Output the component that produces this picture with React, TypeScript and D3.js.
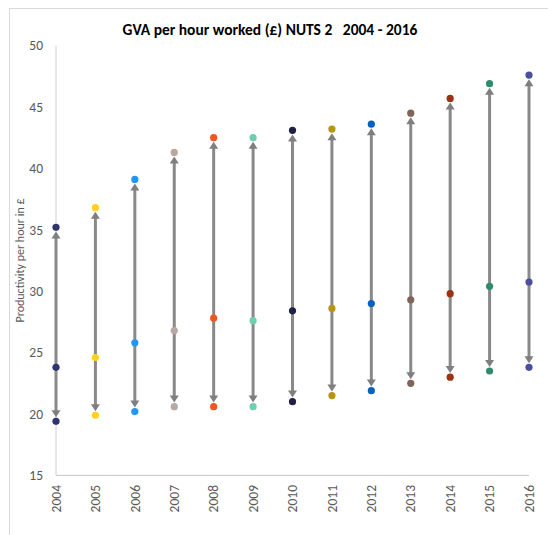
import React from "react";
import * as d3 from "d3";

const years = ["2004","2005","2006","2007","2008","2009","2010","2011","2012","2013","2014","2015","2016"];
const highValues = [35.2, 36.8, 39.1, 41.3, 42.5, 42.5, 43.1, 43.2, 43.6, 44.5, 45.7, 46.9, 47.6];
const midValues = [23.8, 24.6, 25.8, 26.8, 27.8, 27.6, 28.4, 28.6, 29.0, 29.3, 29.8, 30.4, 30.75];
const lowValues = [19.4, 19.9, 20.2, 20.6, 20.6, 20.6, 21.0, 21.5, 21.9, 22.5, 23.0, 23.5, 23.8];
const colors = ["#2e3570","#ffd21f","#2196f3","#b8a8a0","#f0561f","#6dcfae","#1f1f48","#b89510","#0562c0","#7e6558","#9b3212","#2e8b6c","#4a4fa2"];
const yTicks = [15, 20, 25, 30, 35, 40, 45, 50];

const title = "GVA per hour worked (£) NUTS 2   2004 - 2016";
const yTitle = "Productivity per hour in £";

export default function App() {
  const W = 548, H = 535;
  const left = 56, right = 529, top = 45.6, bottom = 475.4;
  const x = d3.scalePoint<string>().domain(years).range([left, right]);
  const y = d3.scaleLinear().domain([15, 50]).range([bottom, top]);
  const font = "Calibri, Carlito, Lato, sans-serif";
  const lineCol = "#898989";
  const r = 3.6;
  const ah = 7, aw = 4.5;

  return (
    <svg width={W} height={H} style={{ position: "absolute", left: 0, top: 0 }} fontFamily={font}>
      <rect x={0} y={0} width={W} height={H} fill="#fff" />
      <rect x={9.5} y={8.5} width={W + 20} height={H + 20} fill="none" stroke="#d9d9d9" strokeWidth={1} />
      <text x={270} y={35} textAnchor="middle" fontSize={15.5} fontWeight="bold" fill="#000" style={{ whiteSpace: "pre" }}>{title}</text>
      {/* axes */}
      <line x1={left} x2={left} y1={top} y2={bottom} stroke="#d0d0d0" strokeWidth={1} />
      <line x1={left} x2={right} y1={bottom} y2={bottom} stroke="#c8c8c8" strokeWidth={1} />
      {yTicks.map((t) => (
        <text key={t} x={43} y={y(t)} dy="0.35em" textAnchor="end" fontSize={13.5} fill="#595959">{t}</text>
      ))}
      {years.map((yr) => (
        <text key={yr} transform={`translate(${x(yr)! },485) rotate(-90)`} dy="0.35em" textAnchor="end" fontSize={13.5} fill="#595959">{yr}</text>
      ))}
      <text transform={`translate(20,${(top + bottom) / 2}) rotate(-90)`} textAnchor="middle" dy="0.35em" fontSize={12} fill="#595959">{yTitle}</text>
      {/* arrows */}
      {years.map((yr, i) => {
        const cx = x(yr)!;
        const yh = y(highValues[i]);
        const yl = y(lowValues[i]);
        const tipTop = yh + r + 0.5;
        const tipBot = yl - r - 0.5;
        return (
          <g key={"a" + yr}>
            <line x1={cx} x2={cx} y1={tipTop + ah - 1} y2={tipBot - ah + 1} stroke={lineCol} strokeWidth={3} />
            <path d={`M${cx},${tipTop} L${cx - aw},${tipTop + ah} L${cx + aw},${tipTop + ah} Z`} fill="#7f7f7f" />
            <path d={`M${cx},${tipBot} L${cx - aw},${tipBot - ah} L${cx + aw},${tipBot - ah} Z`} fill="#7f7f7f" />
          </g>
        );
      })}
      {/* points */}
      {years.map((yr, i) => (
        <g key={"p" + yr} fill={colors[i]}>
          <circle cx={x(yr)!} cy={y(highValues[i])} r={r} />
          <circle cx={x(yr)!} cy={y(midValues[i])} r={r} />
          <circle cx={x(yr)!} cy={y(lowValues[i])} r={r} />
        </g>
      ))}
    </svg>
  );
}
